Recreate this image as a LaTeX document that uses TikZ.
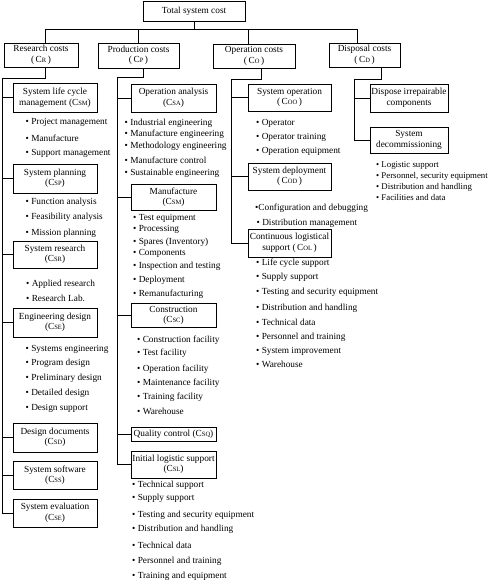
\documentclass[tikz,border=0pt]{standalone}
\usepackage{fontspec}
\setmainfont{Liberation Serif}
\newcommand\sbs[1]{{\fontsize{6.5}{7}\selectfont #1}}
\tikzset{
  box/.style={draw, line width=0.8pt, align=center, inner sep=0pt, font=\fontsize{9.3}{10.5}\selectfont},
  item/.style={anchor=west, inner sep=0pt, font=\fontsize{9.3}{10}\selectfont},
  smallitem/.style={item, font=\fontsize{8.8}{10}\selectfont},
  conn/.style={line width=0.8pt},
}
\newcommand\blist[4][item]{% style, prefix, bullet x, list y/text
  \foreach \yy/\tt [count=\i] in {#4} \node[#1] (#2-\i) at (#3,\yy) {\textbullet\ \tt};}
\begin{document}
\begin{tikzpicture}[x=1pt,y=-1pt]
\useasboundingbox (0,0) rectangle (490,580);
% top level
\node[box, minimum width=102pt, minimum height=20pt] (total) at (194,11) {Total system cost};
\node[box, minimum width=74pt, minimum height=24pt] (R) at (41,55) {Research costs\\(\,C\sbs{R}\,)};
\node[box, minimum width=81pt, minimum height=25pt] (P) at (138.5,55.5) {Production costs\\(\,C\sbs{P}\,)};
\node[box, minimum width=82pt, minimum height=24pt] (O) at (254,56) {Operation costs\\(\,C\sbs{O}\,)};
\node[box, minimum width=71pt, minimum height=24pt] (D) at (364.5,55) {Disposal costs\\(\,C\sbs{D}\,)};
\draw[conn] (total.south) -- ++(0,8) coordinate (bus);
\draw[conn] ([xshift=4pt]R.north) |- (bus);
\draw[conn] (bus) -| ([xshift=-7.5pt]D.north);
\draw[conn] ([xshift=-0.5pt]P.north) -- ([xshift=-0.5pt]P.north |- bus);
\draw[conn] ([xshift=-6pt]O.north) -- ([xshift=-6pt]O.north |- bus);

% Research column
\begin{scope}[every node/.append style={minimum width=84pt}]
\node[box, minimum height=29pt] (Rsm) at (55,97.5) {System life cycle\\management (C\sbs{SM})};
\node[box, minimum height=29pt] (Rsp) at (55,178.5) {System planning\\(C\sbs{SP})};
\node[box, minimum height=27pt] (Rsr) at (55,254.5) {System research\\(C\sbs{SR})};
\node[box, minimum height=29pt] (Rse) at (55,322.5) {Engineering design\\(C\sbs{SE})};
\node[box, minimum height=29pt] (Rsd) at (55,437.5) {Design documents\\(C\sbs{SD})};
\node[box, minimum height=28pt] (Rss) at (55,475) {System software\\(C\sbs{SS})};
\node[box, minimum height=28pt] (Rev) at (55,513) {System evaluation\\(C\sbs{SE})};
\end{scope}
\coordinate (tR) at (2,78);
\draw[conn] ([xshift=4pt]R.south) |- (tR) |- (Rev.west);
\foreach \n in {Rsm,Rsp,Rsr,Rse,Rsd,Rss} \draw[conn] (\n.west) -- (\n.west -| tR);
\blist{lsm}{25.5}{122/Project management,138/Manufacture,153/Support management}
\blist{lsp}{25.5}{202/Function analysis,217/Feasibility analysis,233/Mission planning}
\blist{lsr}{26}{284/Applied research,298/Research Lab.}
\blist{lse}{25.5}{349/Systems engineering,363/Program design,378/Preliminary design,393/Detailed design,408/Design support}

% Production column
\begin{scope}[every node/.append style={minimum width=85pt}]
\node[box, minimum height=28pt] (Psa) at (173.5,98) {Operation analysis\\(C\sbs{SA})};
\node[box, minimum height=26pt] (Psm) at (173.5,197) {Manufacture\\(C\sbs{SM})};
\node[box, minimum height=24pt] (Psc) at (173.5,315.5) {Construction\\(C\sbs{SC})};
\node[box, minimum height=14pt] (Psq) at (173.5,434) {Quality control (C\sbs{SQ})};
\node[box, minimum height=27pt] (Psl) at (173.5,464.5) {Initial logistic support\\(C\sbs{SL})};
\end{scope}
\coordinate (tP) at (117,77);
\draw[conn] ([xshift=4.5pt]P.south) |- (tP) |- (Psl.west);
\foreach \n in {Psa,Psm,Psc,Psq} \draw[conn] (\n.west) -- (\n.west -| tP);
\blist{lsa}{124.5}{123/Industrial engineering,134/Manufacture engineering,146.5/Methodology engineering,160/Manufacture control,173/Sustainable engineering}
\blist{lpm}{133}{218/Test equipment,229.5/Processing,242/Spares (Inventory),253.5/Components,266/Inspection and testing,280/Deployment,294/Remanufacturing}
\blist{lsc}{137}{340/Construction facility,353/Test facility,369/Operation facility,383/Maintenance facility,397/Training facility,411/Warehouse}
\blist{lsl}{132}{485/Technical support,498.5/Supply support,515/Testing and security equipment,529/Distribution and handling,545/Technical data,561/Personnel and training,576/Training and equipment}

% Operation column
\begin{scope}[every node/.append style={minimum width=83pt}]
\node[box, minimum height=27pt] (Ooo) at (289.5,97.5) {System operation\\(\,C\sbs{OO}\,)};
\node[box, minimum height=27pt] (Ood) at (289.5,176.5) {System deployment\\(\,C\sbs{OD}\,)};
\node[box, minimum height=28pt] (Ool) at (289.5,243) {Continuous logistical\\support (\,C\sbs{OL}\,)};
\end{scope}
\coordinate (tO) at (231,79);
\draw[conn] ([xshift=7pt]O.south) |- (tO) |- (Ool.west);
\foreach \n in {Ooo,Ood} \draw[conn] (\n.west) -- (\n.west -| tO);
\blist{loo}{256}{123/Operator,137/Operator training,151/Operation equipment}
\node[item] (lod-1) at (255,208) {\textbullet Configuration and debugging};
\node[item] (lod-2) at (256.5,223) {\textbullet\ Distribution management};
\blist{lol}{256}{263/Life cycle support,277/Supply support,292/Testing and security equipment,308/Distribution and handling,322/Technical data,337/Personnel and training,351/System improvement,364/Warehouse}

% Disposal column
\begin{scope}[every node/.append style={minimum width=78pt}]
\node[box, minimum height=28pt] (Dic) at (409,98) {Dispose irrepairable\\components};
\node[box, minimum height=26pt] (Dsd) at (409,140) {System\\decommissioning};
\end{scope}
\coordinate (tD) at (354,79);
\draw[conn] ([xshift=16.5pt]D.south) |- (tD) |- (Dsd.west);
\draw[conn] (Dic.west) -- (Dic.west -| tD);
\blist[smallitem]{lsd}{376}{166/Logistic support,176.5/{Personnel, security equipment},187/Distribution and handling,197/Facilities and data}
\end{tikzpicture}
\end{document}
